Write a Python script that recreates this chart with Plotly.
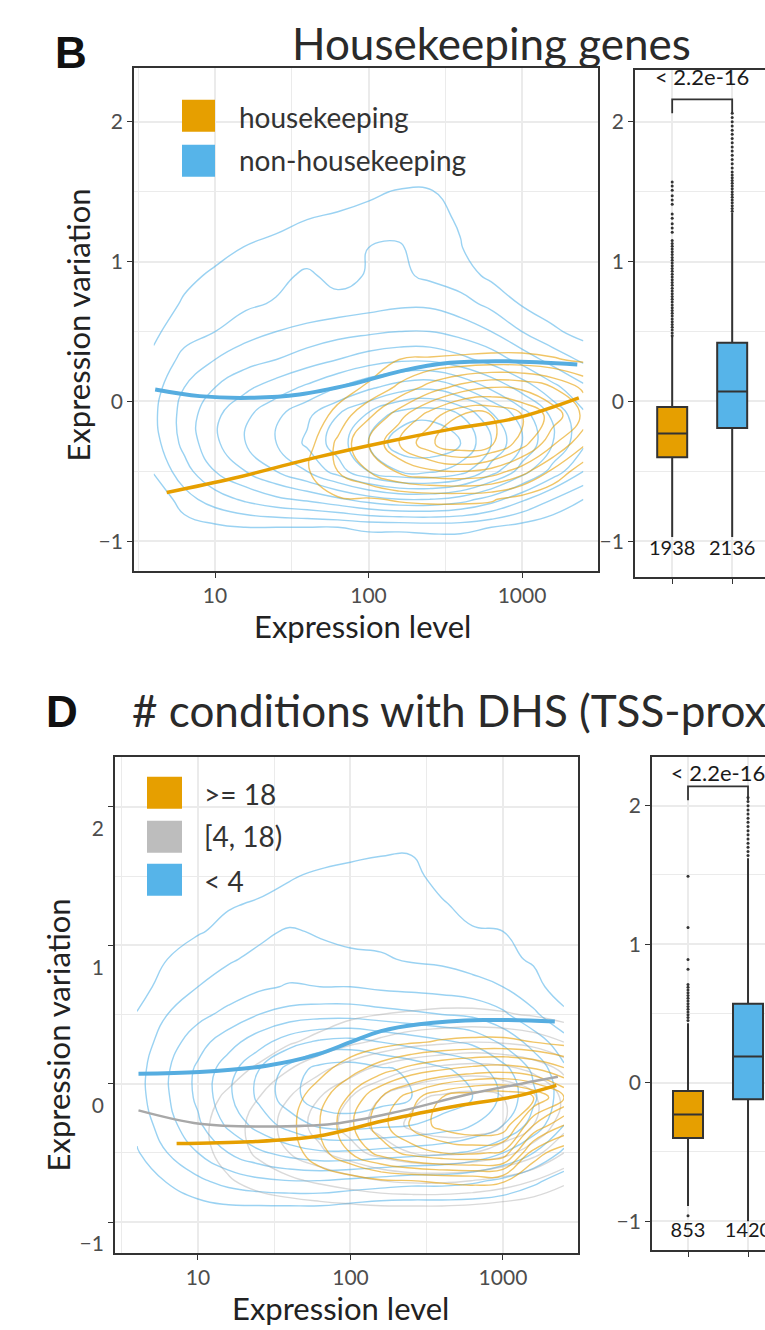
import plotly.graph_objects as go

W, H = 765, 1330
FONT = "Lato, 'Open Sans', sans-serif"
ORANGE = "#E69F00"
BLUE = "#56B4E9"
GRAY = "#BDBDBD"

# ---------------- data ----------------
# 2-D density grids (log10 expression level  x  expression variation), values = density level
LOG10_EXPR_GRID = [0.6, 0.8, 1.0, 1.2, 1.4, 1.6, 1.8, 2.0, 2.2, 2.4, 2.6, 2.8, 3.0, 3.2, 3.4]
VARIATION_GRID = [-1.1, -0.9, -0.7, -0.5, -0.3, -0.1, 0.1, 0.3, 0.5, 0.7, 0.9, 1.1, 1.3, 1.5, 1.7, 1.9]

# panel B, non-housekeeping (one list per expression column, bottom -> top)
B_NONHK_DENSITY = [
    [0, 0, 0, 1.1, 1.6, 1.8, 1.6, 1.2, 0.8, 0.3, 0, 0, 0, 0, 0, 0],
    [0, 0.5, 1.6, 2.6, 3.3, 3.4, 3.0, 2.3, 1.6, 1.15, 0.7, 0.2, 0, 0, 0, 0],
    [0, 0.8, 2.5, 4.0, 4.8, 4.8, 4.0, 3.0, 2.0, 1.5, 1.2, 0.6, 0.1, 0, 0, 0],
    [0, 1.0, 3.2, 5.0, 6.0, 5.8, 4.8, 3.6, 2.6, 1.8, 1.5, 1.05, 0.4, 0, 0, 0],
    [0, 1.0, 3.8, 6.0, 7.0, 6.8, 5.5, 4.0, 3.0, 2.1, 1.7, 1.3, 0.7, 0.1, 0, 0],
    [0, 1.0, 4.2, 7.0, 8.2, 7.8, 6.2, 4.5, 3.3, 2.3, 2.2, 1.4, 1.0, 0.3, 0, 0],
    [0, 1.0, 4.8, 8.5, 9.5, 9.0, 7.0, 5.0, 3.6, 2.4, 1.6, 1.5, 1.2, 0.5, 0, 0],
    [0, 1.2, 5.5, 10.0, 11.0, 10.2, 7.8, 5.5, 3.8, 2.6, 2.1, 2.0, 1.4, 0.8, 0, 0],
    [0, 1.2, 6.0, 11.0, 12.6, 11.5, 8.5, 5.8, 4.0, 2.8, 2.2, 2.1, 1.6, 1.1, 0, 0],
    [0, 1.3, 6.0, 11.2, 12.8, 11.8, 8.8, 5.8, 4.0, 2.8, 1.8, 1.5, 1.3, 1.1, 0.1, 0],
    [0, 1.3, 5.5, 10.5, 12.0, 11.0, 8.0, 5.3, 3.6, 2.4, 1.4, 1.05, 0.9, 0.5, 0, 0],
    [0, 1.0, 4.5, 8.5, 10.0, 9.2, 6.8, 4.6, 3.0, 1.7, 0.8, 0.3, 0, 0, 0, 0],
    [0, 0.6, 3.2, 6.5, 8.0, 7.5, 5.6, 3.6, 2.0, 0.9, 0.3, 0, 0, 0, 0, 0],
    [0, 0.2, 2.0, 4.6, 6.0, 5.8, 4.3, 2.6, 1.2, 0.4, 0, 0, 0, 0, 0, 0],
    [0, 0, 1.0, 3.0, 4.2, 4.2, 3.2, 1.8, 0.6, 0, 0, 0, 0, 0, 0, 0],
]
# panel B, housekeeping
B_HK_DENSITY = [
    [0] * 16, [0] * 16, [0] * 16, [0] * 16, [0] * 16,
    [0, 0, 0.6, 0.9, 0.6, 0.1, 0, 0, 0, 0, 0, 0, 0, 0, 0, 0],
    [0, 0, 0.9, 2.0, 2.2, 1.4, 0.4, 0, 0, 0, 0, 0, 0, 0, 0, 0],
    [0, 0, 0.9, 3.0, 4.0, 2.8, 1.2, 0.2, 0, 0, 0, 0, 0, 0, 0, 0],
    [0, 0, 1.1, 4.2, 6.0, 4.6, 2.2, 1.0, 0, 0, 0, 0, 0, 0, 0, 0],
    [0, 0, 1.2, 4.8, 7.8, 6.5, 3.4, 1.1, 0, 0, 0, 0, 0, 0, 0, 0],
    [0, 0, 1.2, 5.0, 9.0, 8.0, 4.4, 1.2, 0, 0, 0, 0, 0, 0, 0, 0],
    [0, 0, 1.1, 4.6, 8.2, 8.0, 5.0, 1.3, 0, 0, 0, 0, 0, 0, 0, 0],
    [0, 0, 0.6, 3.4, 6.5, 7.0, 4.8, 1.3, 0, 0, 0, 0, 0, 0, 0, 0],
    [0, 0, 0.1, 1.8, 4.2, 5.6, 4.0, 1.1, 0, 0, 0, 0, 0, 0, 0, 0],
    [0, 0, 0, 0.4, 2.2, 3.8, 2.8, 0.8, 0, 0, 0, 0, 0, 0, 0, 0],
]
# panel D, < 4 conditions
D_LOW_DENSITY = [
    [0, 0, 0, 0.9, 1.3, 1.6, 1.6, 1.4, 1.05, 0.6, 0.2, 0, 0, 0, 0, 0],
    [0, 0.3, 1.1, 2.0, 2.6, 2.9, 2.9, 2.5, 2.0, 1.4, 1.0, 0.5, 0.1, 0, 0, 0],
    [0, 0.6, 1.8, 3.0, 3.8, 4.2, 4.2, 3.6, 2.7, 2.0, 1.6, 0.9, 0.4, 0, 0, 0],
    [0, 0.8, 2.4, 4.0, 5.2, 5.8, 5.6, 4.6, 3.3, 2.4, 1.9, 1.3, 0.9, 0.3, 0, 0],
    [0, 0.8, 2.8, 4.8, 6.4, 7.2, 7.0, 5.6, 4.0, 2.8, 2.2, 1.8, 1.1, 0.6, 0, 0],
    [0, 0.8, 3.0, 5.4, 7.4, 8.6, 8.4, 6.6, 4.4, 3.1, 2.4, 2.1, 1.4, 0.9, 0.2, 0],
    [0, 0.8, 3.0, 5.8, 8.2, 9.6, 9.4, 7.2, 4.6, 3.0, 2.3, 1.9, 1.6, 1.2, 0.4, 0],
    [0, 0.6, 2.8, 5.8, 8.4, 9.8, 9.6, 7.4, 4.6, 3.0, 2.2, 1.7, 1.7, 1.4, 0.6, 0],
    [0, 0.4, 2.6, 5.6, 8.2, 9.4, 9.2, 7.0, 4.4, 2.8, 2.1, 1.7, 1.7, 1.5, 0.8, 0],
    [0, 0.4, 2.4, 5.4, 8.0, 9.0, 8.8, 6.6, 4.2, 2.7, 1.9, 1.6, 1.4, 1.3, 0.9, 0],
    [0, 0.4, 2.4, 5.2, 7.6, 8.6, 8.2, 6.2, 4.0, 2.6, 1.8, 1.3, 1.1, 0.6, 0.1, 0],
    [0, 0.4, 2.2, 4.8, 7.0, 8.0, 7.6, 5.8, 3.8, 2.4, 1.5, 1.1, 0.6, 0.1, 0, 0],
    [0, 0.3, 1.8, 4.0, 6.0, 6.8, 6.4, 4.8, 3.2, 2.0, 1.2, 1.0, 0.5, 0, 0, 0],
    [0, 0.1, 1.2, 3.0, 4.6, 5.2, 4.8, 3.6, 2.2, 1.3, 0.9, 0.6, 0.1, 0, 0, 0],
    [0, 0, 0.6, 1.8, 3.0, 3.4, 3.2, 2.4, 1.2, 0.5, 0.1, 0, 0, 0, 0, 0],
]
# panel D, [4, 18) conditions
D_MID_DENSITY = [
    [0] * 16, [0] * 16,
    [0, 0, 0.3, 0.6, 0.7, 0.5, 0.2, 0, 0, 0, 0, 0, 0, 0, 0, 0],
    [0, 0.2, 0.9, 1.4, 1.5, 1.2, 0.6, 0.1, 0, 0, 0, 0, 0, 0, 0, 0],
    [0, 0.4, 1.4, 2.2, 2.4, 2.0, 1.2, 0.4, 0, 0, 0, 0, 0, 0, 0, 0],
    [0, 0.5, 1.8, 3.0, 3.4, 3.0, 2.0, 0.9, 0.2, 0, 0, 0, 0, 0, 0, 0],
    [0, 0.6, 2.2, 3.8, 4.4, 4.0, 2.8, 1.3, 0.5, 0, 0, 0, 0, 0, 0, 0],
    [0, 0.7, 2.6, 4.6, 5.4, 5.0, 3.6, 1.8, 0.8, 0.1, 0, 0, 0, 0, 0, 0],
    [0, 0.8, 3.0, 5.4, 6.4, 6.0, 4.4, 2.2, 1.0, 0.2, 0, 0, 0, 0, 0, 0],
    [0, 0.8, 3.2, 6.0, 7.2, 6.8, 5.0, 2.6, 1.1, 0.3, 0, 0, 0, 0, 0, 0],
    [0, 0.8, 3.2, 6.2, 7.6, 7.2, 5.4, 2.8, 1.2, 0.3, 0, 0, 0, 0, 0, 0],
    [0, 0.7, 3.0, 6.0, 7.6, 7.4, 5.6, 3.0, 1.2, 0.3, 0, 0, 0, 0, 0, 0],
    [0, 0.5, 2.6, 5.4, 7.0, 7.0, 5.4, 2.9, 1.1, 0.2, 0, 0, 0, 0, 0, 0],
    [0, 0.3, 2.0, 4.4, 6.0, 6.2, 4.8, 2.6, 0.9, 0.1, 0, 0, 0, 0, 0, 0],
    [0, 0.1, 1.2, 3.0, 4.4, 4.8, 3.8, 2.0, 0.6, 0, 0, 0, 0, 0, 0, 0],
]
# panel D, >= 18 conditions
D_HIGH_DENSITY = [
    [0] * 16, [0] * 16, [0] * 16, [0] * 16, [0] * 16,
    [0, 0, 0, 0.5, 0.7, 0.5, 0.1, 0, 0, 0, 0, 0, 0, 0, 0, 0],
    [0, 0, 0.4, 1.6, 2.0, 1.6, 0.7, 0, 0, 0, 0, 0, 0, 0, 0, 0],
    [0, 0, 0.5, 3.0, 3.8, 3.2, 1.6, 0.3, 0, 0, 0, 0, 0, 0, 0, 0],
    [0, 0, 0.9, 4.4, 5.6, 5.0, 2.6, 0.6, 0, 0, 0, 0, 0, 0, 0, 0],
    [0, 0, 1.0, 5.4, 7.2, 6.6, 3.4, 0.9, 0, 0, 0, 0, 0, 0, 0, 0],
    [0, 0, 1.1, 6.0, 8.4, 8.0, 4.0, 1.1, 0, 0, 0, 0, 0, 0, 0, 0],
    [0, 0, 1.2, 6.2, 9.0, 8.8, 4.4, 1.2, 0, 0, 0, 0, 0, 0, 0, 0],
    [0, 0, 1.1, 5.8, 8.8, 9.0, 4.6, 1.2, 0, 0, 0, 0, 0, 0, 0, 0],
    [0, 0, 0, 1.5, 5.0, 8.0, 4.2, 1.0, 0, 0, 0, 0, 0, 0, 0, 0],
    [0, 0, 0, 0.3, 3.0, 6.0, 3.2, 0.7, 0, 0, 0, 0, 0, 0, 0, 0],
]

# loess trend lines (log10 expression, variation)
B_NONHK_TREND_X = [0.61, 0.90, 1.23, 1.55, 1.88, 2.21, 2.53, 2.86, 3.36]
B_NONHK_TREND_Y = [0.086, 0.038, 0.026, 0.05, 0.12, 0.217, 0.276, 0.288, 0.264]
B_HK_TREND_X = [0.685, 1.12, 1.66, 2.09, 2.53, 2.97, 3.37]
B_HK_TREND_Y = [-0.652, -0.55, -0.40, -0.295, -0.20, -0.117, 0.026]
D_LOW_TREND_X = [0.61, 1.01, 1.45, 1.78, 2.0, 2.2, 2.45, 2.87, 3.34]
D_LOW_TREND_Y = [0.072, 0.084, 0.13, 0.21, 0.30, 0.38, 0.43, 0.46, 0.45]
D_MID_TREND_X = [0.61, 1.01, 1.45, 1.89, 2.32, 2.76, 3.2, 3.36]
D_MID_TREND_Y = [-0.193, -0.29, -0.31, -0.29, -0.20, -0.08, 0.017, 0.05]
D_HIGH_TREND_X = [0.86, 1.34, 1.78, 2.21, 2.65, 3.09, 3.35]
D_HIGH_TREND_Y = [-0.433, -0.42, -0.38, -0.27, -0.17, -0.09, -0.012]

# box plots: [q1, median, q3, lower whisker, upper whisker]
B_HK_BOX = [-0.40, -0.23, -0.04, -0.97, 0.46]
B_NONHK_BOX = [-0.19, 0.07, 0.42, -0.97, 1.35]
D_HIGH_BOX = [-0.40, -0.23, -0.06, -0.89, 0.43]
D_LOW_BOX = [-0.12, 0.19, 0.57, -1.0, 1.62]
B_HK_OUTLIERS = [0.47, 0.49, 0.51, 0.53, 0.55, 0.57, 0.59, 0.61, 0.63, 0.65, 0.67, 0.69, 0.71, 0.73,
                 0.75, 0.77, 0.79, 0.81, 0.83, 0.85, 0.87, 0.89, 0.91, 0.93, 0.95, 0.97, 0.99, 1.01,
                 1.03, 1.05, 1.07, 1.09, 1.11, 1.13, 1.15, 1.21, 1.24, 1.27, 1.31, 1.34, 1.41, 1.44,
                 1.47, 1.51, 1.54, 1.57]
B_NONHK_OUTLIERS = [1.36, 1.38, 1.40, 1.42, 1.44, 1.46, 1.48, 1.50, 1.52, 1.54, 1.56, 1.58, 1.60,
                    1.62, 1.64, 1.67, 1.70, 1.73, 1.76, 1.79, 1.82, 1.85, 1.88, 1.91, 1.94, 1.97,
                    2.00, 2.03, 2.06]
D_HIGH_OUTLIERS = [-0.96, 0.45, 0.47, 0.49, 0.51, 0.53, 0.55, 0.57, 0.59, 0.61, 0.63, 0.65, 0.67,
                   0.69, 0.71, 0.82, 0.89, 1.12, 1.49]
D_LOW_OUTLIERS = [1.64, 1.67, 1.70, 1.73, 1.76, 1.79, 1.82, 1.85, 1.88, 1.91, 1.94, 1.97, 2.00,
                  2.03, 2.06]
B_COUNTS = ["1938", "2136"]
D_COUNTS = ["853", "1420"]
P_LABEL = "< 2.2e-16"

X_TICKVALS = [1, 2, 3]
X_TICKTEXT = ["10", "100", "1000"]
Y_TICKVALS = [-1, 0, 1, 2]

# ---------------- figure ----------------
def px(p):
    return p / W


def py(p):
    return 1 - p / H


fig = go.Figure()


def add_contour(cols, color, xa, ya, nlev):
    z = [list(r) for r in zip(*cols)]
    fig.add_trace(go.Contour(
        x=LOG10_EXPR_GRID, y=VARIATION_GRID, z=z, xaxis=xa, yaxis=ya,
        contours=dict(coloring="lines", start=1, end=nlev, size=1, showlabels=False),
        line=dict(width=1.4, smoothing=1.3),
        colorscale=[[0, color], [1, color]], showscale=False, hoverinfo="skip"))


def add_trend(xs, ys, color, width, xa, ya):
    fig.add_trace(go.Scatter(x=xs, y=ys, mode="lines", xaxis=xa, yaxis=ya,
                             line=dict(color=color, width=width, shape="spline", smoothing=1.0),
                             hoverinfo="skip", showlegend=False))


def add_box(pos, stats, color, outliers, xa, ya):
    q1, med, q3, lo, hi = stats
    fig.add_trace(go.Box(x=[pos], q1=[q1], median=[med], q3=[q3], lowerfence=[lo], upperfence=[hi],
                         fillcolor=color, line=dict(color="#333333", width=2), width=0.5,
                         whiskerwidth=0, boxpoints=False, xaxis=xa, yaxis=ya,
                         showlegend=False, hoverinfo="skip"))
    fig.add_trace(go.Scatter(x=[pos] * len(outliers), y=outliers, mode="markers", xaxis=xa, yaxis=ya,
                             marker=dict(color="#333333", size=3), hoverinfo="skip", showlegend=False))


def add_pvalue(xa, ya, y_low, y_high, y_text, counts, y_count):
    fig.add_trace(go.Scatter(x=[1, 1, 2, 2], y=[y_low, y_high, y_high, y_low], mode="lines",
                             xaxis=xa, yaxis=ya, line=dict(color="#333333", width=1.8),
                             hoverinfo="skip", showlegend=False))
    fig.add_trace(go.Scatter(x=[1.5], y=[y_text], mode="text", text=[P_LABEL], xaxis=xa, yaxis=ya,
                             textfont=dict(family=FONT, size=22, color="#1a1a1a"), cliponaxis=False,
                             hoverinfo="skip", showlegend=False))
    fig.add_trace(go.Scatter(x=[1, 2], y=[y_count, y_count], mode="text", text=counts, xaxis=xa,
                             yaxis=ya, textfont=dict(family=FONT, size=20, color="#1a1a1a"),
                             cliponaxis=False, hoverinfo="skip", showlegend=False))


# panel B main
add_contour(B_NONHK_DENSITY, "rgba(86,180,233,0.6)", "x", "y", 13)
add_contour(B_HK_DENSITY, "rgba(230,159,0,0.6)", "x", "y", 9)
add_trend(B_NONHK_TREND_X, B_NONHK_TREND_Y, "#56ADE0", 4, "x", "y")
add_trend(B_HK_TREND_X, B_HK_TREND_Y, ORANGE, 3.5, "x", "y")
# panel B boxes
add_box(1, B_HK_BOX, ORANGE, B_HK_OUTLIERS, "x2", "y2")
add_box(2, B_NONHK_BOX, BLUE, B_NONHK_OUTLIERS, "x2", "y2")
add_pvalue("x2", "y2", 2.06, 2.16, 2.30, B_COUNTS, -1.06)

# panel D main
add_contour(D_LOW_DENSITY, "rgba(86,180,233,0.6)", "x3", "y3", 10)
add_contour(D_MID_DENSITY, "rgba(160,160,160,0.4)", "x3", "y3", 8)
add_contour(D_HIGH_DENSITY, "rgba(230,159,0,0.6)", "x3", "y3", 9)
add_trend(D_LOW_TREND_X, D_LOW_TREND_Y, "#56ADE0", 4, "x3", "y3")
add_trend(D_MID_TREND_X, D_MID_TREND_Y, "#A8A8A8", 2.5, "x3", "y3")
add_trend(D_HIGH_TREND_X, D_HIGH_TREND_Y, ORANGE, 3.5, "x3", "y3")
# panel D boxes
add_box(1, D_HIGH_BOX, ORANGE, D_HIGH_OUTLIERS, "x4", "y4")
add_box(2, D_LOW_BOX, BLUE, D_LOW_OUTLIERS, "x4", "y4")
add_pvalue("x4", "y4", 2.04, 2.14, 2.22, D_COUNTS, -1.08)

GRID = "#ebebeb"
AXC = "#333333"


def axis(**kw):
    d = dict(showline=True, linecolor=AXC, linewidth=1.8, ticks="outside", ticklen=5, tickwidth=1.4,
             tickcolor=AXC, showgrid=True, gridcolor=GRID, gridwidth=1.6, zeroline=False,
             tickfont=dict(family=FONT, size=21, color="#4d4d4d"))
    d.update(kw)
    return d


fig.update_layout(
    width=W, height=H, margin=dict(l=0, r=0, t=0, b=0),
    paper_bgcolor="white", plot_bgcolor="white", showlegend=False,
    xaxis=axis(domain=[px(134), px(598)], range=[0.472, 3.495], anchor="y", mirror=True,
               tickvals=X_TICKVALS, ticktext=X_TICKTEXT,
               minor=dict(tickvals=[0.5, 1.5, 2.5], showgrid=True, gridcolor=GRID, gridwidth=0.8)),
    yaxis=axis(domain=[py(572), py(68)], range=[-1.214, 2.386], anchor="x", mirror=True,
               tickvals=Y_TICKVALS,
               minor=dict(tickvals=[-0.5, 0.5, 1.5], showgrid=True, gridcolor=GRID, gridwidth=0.8)),
    xaxis2=axis(domain=[px(635), 1.0], range=[0.38, 2.547], anchor="y2", mirror=True,
                tickvals=[1, 2], showticklabels=False),
    yaxis2=axis(domain=[py(578), py(70)], range=[-1.257, 2.371], anchor="x2", mirror=False,
                tickvals=Y_TICKVALS,
                minor=dict(tickvals=[-0.5, 0.5, 1.5], showgrid=True, gridcolor=GRID, gridwidth=0.8)),
    xaxis3=axis(domain=[px(115), px(578)], range=[0.456, 3.492], anchor="y3", mirror=True,
                tickvals=X_TICKVALS, ticktext=X_TICKTEXT,
                minor=dict(tickvals=[0.5, 1.5, 2.5], showgrid=True, gridcolor=GRID, gridwidth=0.8)),
    yaxis3=axis(domain=[py(1255), py(758)], range=[-1.224, 2.361], anchor="x3", mirror=True,
                tickvals=Y_TICKVALS, ticklabelshift=22,
                minor=dict(tickvals=[-0.5, 0.5, 1.5], showgrid=True, gridcolor=GRID, gridwidth=0.8)),
    xaxis4=axis(domain=[px(652), 1.0], range=[0.4, 2.283], anchor="y4", mirror=True,
                tickvals=[1, 2], showticklabels=False),
    yaxis4=axis(domain=[py(1252), py(758)], range=[-1.209, 2.353], anchor="x4", mirror=False,
                tickvals=Y_TICKVALS,
                minor=dict(tickvals=[-0.5, 0.5, 1.5], showgrid=True, gridcolor=GRID, gridwidth=0.8)),
)

ann = []


def text(x, y, s, size, color="#222222", xanchor="center", angle=0, family=FONT):
    ann.append(dict(x=px(x), y=py(y), xref="paper", yref="paper", text=s, showarrow=False,
                    xanchor=xanchor, yanchor="middle", textangle=angle,
                    font=dict(family=family, size=size, color=color)))


# panel letters and titles
text(71, 53, "<b>B</b>", 44, "#111111", family="'Liberation Sans', Arial, sans-serif")
text(62, 713, "<b>D</b>", 44, "#111111", family="'Liberation Sans', Arial, sans-serif")
text(491, 43, "Housekeeping genes", 44, "#2a2a2a")
text(130, 711, "# conditions with DHS (TSS-proximal)", 44, "#2a2a2a", xanchor="left")
# axis titles
text(78, 326, "Expression variation", 31, angle=-90)
text(362, 627, "Expression level", 31)
text(58, 1037, "Expression variation", 31, angle=-90)
text(340, 1310, "Expression level", 31)

# legends
shapes = []


def key(x0, y0, x1, y1, color):
    shapes.append(dict(type="rect", xref="paper", yref="paper", x0=px(x0), x1=px(x1), y0=py(y1),
                       y1=py(y0), fillcolor=color, line=dict(width=0), layer="above"))


key(182, 100, 215, 132, ORANGE)
key(182, 145, 215, 177, BLUE)
text(237, 117, "housekeeping", 28, "#333333", xanchor="left")
text(237, 160, "non-housekeeping", 28, "#333333", xanchor="left")

key(147, 778, 182, 810, ORANGE)
key(147, 822, 182, 854, GRAY)
key(147, 865, 182, 897, BLUE)
text(202, 795, "&gt;= 18", 28, "#333333", xanchor="left")
text(202, 837, "[4, 18)", 28, "#333333", xanchor="left")
text(202, 882, "&lt; 4", 28, "#333333", xanchor="left")

fig.update_layout(annotations=ann, shapes=shapes)
fig.write_html("out.html")
